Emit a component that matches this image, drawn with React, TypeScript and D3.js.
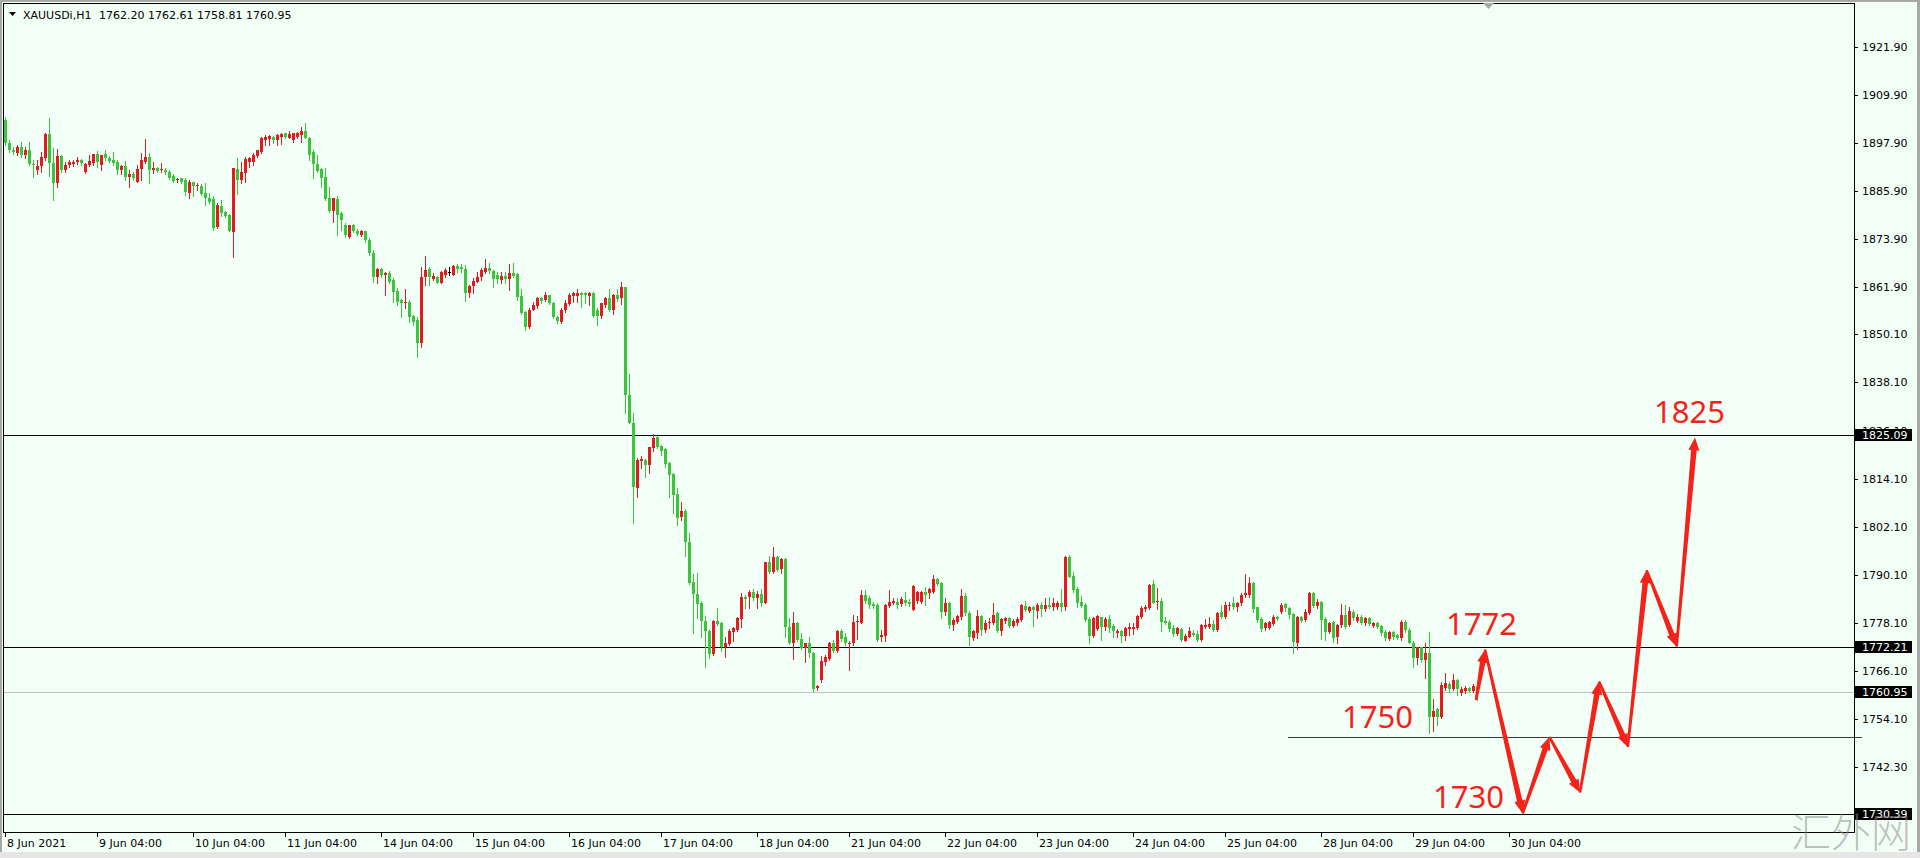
import React from "react";
import * as d3 from "d3";

// ---------- DATA: XAUUSDi H1 candles [open, high, low, close] ----------
const d0608 = [
  [1903.6,1904.2,1897.4,1897.8],[1897.8,1898.6,1895.5,1896.1],[1896.1,1896.9,1895.2,1895.6],[1895.3,1897.3,1894.8,1896.9],
  [1896.9,1898.2,1894.4,1894.8],[1894.8,1896.9,1894.2,1896.1],[1896.1,1898.2,1892.3,1892.6],[1892.6,1893.5,1889.4,1892.4],
  [1891.1,1893.6,1890.1,1892.0],[1892.1,1895.6,1890.7,1894.3],[1894.0,1900.3,1893.6,1900.0],[1900.0,1904.0,1889.6,1892.8],
  [1892.8,1896.5,1883.5,1887.8],[1887.8,1896.3,1886.8,1894.6],[1894.6,1894.9,1890.7,1891.0],[1891.0,1893.1,1890.7,1892.3],
  [1892.3,1893.6,1891.8,1893.0],[1892.6,1893.6,1892.2,1893.2],[1893.0,1894.3,1892.5,1893.6],[1893.6,1893.8,1892.4,1892.8],
  [1890.6,1892.8,1890.4,1892.6],[1892.4,1894.8,1892.0,1893.4],[1892.8,1895.2,1892.3,1895.0],
];
const d0609 = [
  [1895.2,1895.9,1891.9,1893.0],[1892.4,1894.8,1891.1,1894.8],[1895.0,1896.1,1893.6,1894.0],[1894.2,1894.6,1893.2,1893.4],
  [1893.6,1895.7,1892.4,1892.8],[1893.0,1893.6,1890.1,1891.1],[1891.0,1892.4,1890.1,1892.1],[1892.1,1893.4,1888.6,1889.3],
  [1889.3,1891.1,1886.9,1890.2],[1890.2,1890.7,1888.6,1889.0],[1888.2,1892.3,1888.2,1891.3],[1891.3,1895.4,1888.6,1893.6],
  [1893.2,1898.8,1892.8,1894.4],[1894.4,1895.4,1887.8,1891.1],[1891.0,1893.2,1890.3,1891.5],[1891.5,1891.8,1890.5,1890.8],
  [1891.1,1892.8,1890.6,1891.3],[1891.2,1891.6,1890.0,1890.5],[1890.6,1891.0,1888.8,1889.2],[1889.6,1890.0,1888.0,1888.3],
  [1888.5,1889.2,1888.2,1888.9],[1889.0,1889.2,1887.9,1888.2],[1888.5,1889.0,1884.9,1885.7],[1885.4,1888.6,1884.0,1888.0],
];
const d0610 = [
  [1888.0,1888.2,1884.5,1887.0],[1887.0,1887.8,1886.1,1887.3],[1887.2,1887.5,1884.8,1885.2],[1885.3,1887.8,1882.4,1884.0],
  [1884.0,1885.3,1882.8,1883.2],[1883.8,1884.5,1876.1,1876.6],[1877.0,1882.8,1876.6,1882.4],[1882.2,1883.6,1879.5,1880.3],
  [1880.6,1880.8,1879.3,1879.5],[1879.8,1880.0,1875.8,1876.0],[1875.7,1891.5,1869.5,1891.5],[1891.3,1894.0,1885.0,1888.6],
  [1888.6,1893.2,1887.8,1890.5],[1890.3,1894.4,1888.2,1893.8],[1893.0,1894.4,1891.9,1894.2],[1893.2,1895.3,1892.3,1894.8],
  [1894.6,1896.2,1894.3,1896.0],[1895.7,1899.4,1895.3,1899.0],[1898.6,1899.8,1897.3,1899.4],[1898.9,1899.8,1897.3,1899.5],
  [1899.4,1899.6,1897.9,1898.5],[1898.5,1900.0,1897.3,1899.8],[1899.3,1900.2,1897.6,1900.0],
];
const d0611 = [
  [1900.2,1900.4,1899.1,1899.3],[1899.2,1900.7,1899.0,1900.0],[1898.6,1900.3,1898.2,1900.2],[1899.4,1900.6,1899.2,1900.4],
  [1899.8,1901.9,1898.2,1900.9],[1900.9,1902.9,1899.0,1899.2],[1899.2,1899.4,1893.6,1894.8],[1895.6,1896.1,1889.0,1892.7],
  [1892.7,1894.8,1890.7,1890.9],[1891.3,1891.5,1886.9,1889.0],[1889.3,1891.5,1883.6,1883.8],[1884.0,1886.8,1880.7,1880.9],
  [1880.9,1884.2,1878.2,1884.0],[1883.8,1884.5,1875.0,1879.9],[1880.3,1880.7,1876.2,1878.5],[1877.3,1877.8,1874.5,1874.9],
  [1874.5,1877.5,1874.2,1877.3],[1877.3,1877.6,1875.6,1876.0],[1876.0,1876.4,1874.8,1875.2],[1875.0,1876.2,1874.6,1875.8],
  [1875.8,1876.0,1873.2,1873.6],[1873.6,1874.2,1870.0,1870.3],[1870.3,1871.1,1863.2,1864.5],[1864.5,1866.6,1862.8,1866.3],
];
const d0614 = [
  [1866.3,1866.6,1864.5,1864.9],[1865.0,1865.6,1859.9,1865.3],[1865.5,1865.8,1863.0,1863.2],[1863.6,1864.1,1858.2,1860.7],
  [1861.0,1861.6,1857.4,1858.2],[1858.6,1859.0,1854.5,1857.8],[1857.8,1861.3,1856.6,1858.2],[1858.2,1858.7,1853.3,1854.5],
  [1854.6,1854.9,1852.4,1853.3],[1853.7,1854.5,1844.5,1848.0],[1847.9,1867.0,1847.0,1864.5],[1864.5,1869.6,1862.4,1866.2],
  [1866.3,1867.0,1862.4,1864.3],[1864.0,1865.3,1863.6,1864.6],[1864.3,1864.6,1862.8,1863.0],[1863.0,1866.0,1862.8,1865.7],
  [1864.9,1866.6,1864.5,1866.1],[1865.7,1866.8,1864.8,1865.7],[1864.9,1867.4,1864.9,1867.1],[1867.1,1867.6,1865.7,1866.3],
  [1866.8,1867.6,1865.7,1866.3],[1866.3,1867.4,1858.5,1860.3],[1860.3,1862.4,1859.3,1862.2],
];
const d0615 = [
  [1862.1,1864.1,1860.3,1863.5],[1863.2,1865.7,1863.2,1864.5],[1864.3,1866.6,1863.6,1866.1],[1865.7,1869.0,1865.5,1866.6],
  [1866.6,1868.0,1865.3,1865.8],[1866.0,1866.2,1862.0,1863.8],[1864.9,1865.7,1862.8,1863.8],[1863.7,1865.7,1862.8,1864.6],
  [1864.6,1865.7,1862.8,1863.8],[1863.8,1867.6,1861.2,1865.3],[1865.3,1867.8,1864.5,1864.7],[1865.2,1865.5,1858.7,1859.5],
  [1859.7,1861.3,1855.3,1855.5],[1855.8,1856.0,1851.2,1852.0],[1852.0,1856.6,1851.8,1856.3],[1856.3,1858.2,1856.1,1857.4],
  [1857.2,1859.3,1856.6,1859.1],[1859.1,1859.3,1858.0,1858.3],[1858.7,1860.7,1858.3,1859.9],[1859.9,1860.0,1857.6,1857.8],
  [1857.8,1858.2,1854.1,1854.4],[1854.4,1854.7,1853.0,1853.5],[1853.3,1856.6,1853.0,1856.3],[1856.2,1858.6,1855.8,1858.0],
];
const d0616 = [
  [1857.7,1860.5,1857.4,1859.9],[1859.7,1860.7,1858.2,1860.3],[1859.7,1861.3,1858.2,1860.5],[1860.5,1860.7,1857.0,1859.9],
  [1860.3,1860.7,1857.8,1859.9],[1859.7,1860.7,1857.4,1860.5],[1860.5,1860.7,1854.5,1854.7],[1856.2,1856.6,1852.4,1854.7],
  [1854.7,1858.0,1854.1,1857.8],[1857.4,1859.5,1857.0,1859.1],[1859.1,1861.3,1856.0,1856.2],[1856.2,1860.2,1855.3,1859.9],
  [1859.9,1861.3,1858.5,1858.8],[1859.1,1863.2,1857.7,1862.0],[1861.8,1862.0,1830.4,1835.0],[1835.0,1840.2,1827.9,1828.1],
  [1828.1,1830.4,1803.1,1812.0],[1811.7,1819.2,1809.6,1818.8],[1818.6,1819.8,1816.7,1818.9],[1818.8,1819.0,1814.4,1817.5],
  [1817.5,1822.1,1815.6,1821.9],[1821.7,1825.2,1821.1,1824.2],[1824.4,1824.7,1821.7,1822.1],
];
const d0617 = [
  [1822.3,1822.5,1820.0,1821.1],[1821.4,1821.7,1817.1,1817.8],[1818.1,1818.3,1809.6,1815.0],[1815.3,1815.6,1805.5,1810.0],
  [1810.3,1811.7,1802.6,1804.2],[1804.5,1808.4,1803.9,1806.1],[1806.1,1806.5,1794.7,1798.4],[1798.4,1800.5,1787.9,1788.2],
  [1788.4,1790.3,1775.6,1785.4],[1785.4,1790.5,1779.3,1782.9],[1783.2,1783.7,1774.5,1778.5],[1778.7,1779.9,1767.1,1776.0],
  [1776.2,1776.4,1769.5,1770.4],[1770.4,1778.9,1770.1,1778.7],[1778.7,1781.8,1777.6,1777.9],[1778.2,1778.4,1771.2,1772.2],
  [1772.2,1774.6,1769.6,1773.0],[1772.9,1776.6,1772.6,1776.0],[1775.8,1777.1,1773.6,1776.8],[1776.4,1779.7,1776.2,1779.3],
  [1779.0,1785.7,1777.2,1784.7],[1784.7,1785.1,1781.8,1784.0],[1784.5,1786.3,1781.8,1785.9],[1785.9,1786.7,1783.9,1784.3],
];
const d0618 = [
  [1784.3,1786.0,1781.8,1785.4],[1785.4,1786.5,1782.4,1783.2],[1783.2,1793.4,1783.0,1793.2],[1793.2,1794.7,1790.5,1790.9],
  [1790.9,1797.1,1790.6,1794.5],[1794.5,1794.9,1791.1,1791.3],[1791.5,1794.3,1790.5,1794.0],[1794.0,1794.3,1774.7,1777.2],
  [1777.2,1779.3,1772.8,1773.1],[1773.1,1780.9,1769.1,1778.0],[1778.0,1778.4,1773.7,1773.9],[1774.0,1775.5,1771.6,1771.8],
  [1771.8,1773.2,1768.5,1773.0],[1773.0,1774.6,1769.6,1770.6],[1770.6,1770.8,1761.2,1761.6],[1761.8,1762.6,1761.4,1762.4],
  [1763.9,1769.9,1763.5,1768.7],[1768.5,1770.2,1767.7,1769.6],[1769.2,1773.3,1769.0,1773.1],[1773.1,1773.9,1770.8,1771.2],
  [1771.2,1776.3,1770.9,1776.0],[1776.0,1776.6,1773.5,1774.0],[1774.7,1775.5,1772.6,1773.0],
];
const d0621 = [
  [1773.0,1773.5,1766.4,1773.2],[1773.0,1780.1,1772.6,1778.4],[1778.4,1779.9,1774.0,1778.7],[1778.2,1786.3,1778.0,1785.1],
  [1785.1,1786.3,1783.2,1783.7],[1784.3,1784.8,1781.8,1782.6],[1782.8,1783.4,1781.8,1782.4],[1782.6,1783.0,1773.5,1773.9],
  [1774.7,1776.3,1773.5,1775.1],[1774.9,1782.8,1773.5,1782.6],[1782.4,1786.4,1782.0,1783.4],[1783.2,1784.3,1782.8,1783.7],
  [1783.4,1784.3,1781.8,1782.6],[1782.8,1784.6,1782.4,1784.0],[1783.8,1785.9,1782.6,1783.0],[1783.4,1784.0,1782.4,1782.8],
  [1781.3,1787.6,1781.3,1787.3],[1783.7,1786.1,1783.2,1785.9],[1783.4,1786.2,1783.0,1785.9],[1785.9,1787.2,1782.6,1785.1],
  [1785.7,1786.8,1784.3,1786.5],[1785.9,1790.0,1785.5,1789.0],[1789.0,1789.3,1787.5,1787.8],[1788.0,1788.4,1779.3,1780.9],
];
const d0622 = [
  [1780.9,1784.3,1780.1,1783.2],[1783.0,1783.4,1776.8,1777.6],[1777.6,1779.3,1776.4,1778.9],[1778.4,1780.1,1778.0,1779.9],
  [1779.5,1786.6,1779.2,1784.8],[1784.8,1785.7,1780.1,1780.5],[1780.5,1781.0,1772.6,1774.5],[1774.3,1776.4,1773.9,1776.0],
  [1775.7,1781.3,1774.3,1779.9],[1779.9,1780.1,1775.1,1776.4],[1776.4,1778.9,1775.9,1778.0],[1778.0,1779.3,1776.8,1778.4],
  [1778.2,1783.0,1777.8,1780.1],[1780.7,1780.9,1775.9,1776.2],[1776.2,1779.3,1775.1,1779.0],[1778.7,1779.6,1778.2,1779.3],
  [1779.3,1779.5,1777.2,1777.4],[1777.4,1779.0,1777.0,1778.7],[1778.0,1779.5,1777.6,1779.0],[1778.9,1782.8,1778.7,1782.6],
  [1782.4,1783.7,1781.0,1781.3],[1781.2,1782.4,1780.9,1782.0],[1782.0,1782.3,1777.4,1781.3],
];
const d0623 = [
  [1781.2,1783.0,1779.3,1782.6],[1782.6,1783.4,1779.9,1781.5],[1781.5,1784.3,1781.2,1782.6],[1782.6,1784.6,1781.8,1782.0],
  [1782.0,1784.3,1781.3,1783.0],[1782.0,1783.6,1781.6,1783.2],[1783.2,1786.5,1781.0,1782.2],[1782.2,1794.7,1781.3,1794.5],
  [1794.5,1795.0,1789.5,1789.7],[1789.8,1790.9,1785.9,1786.3],[1786.5,1787.0,1782.0,1783.2],[1783.4,1784.8,1782.0,1782.4],
  [1782.6,1783.0,1778.5,1778.9],[1779.0,1779.5,1773.0,1774.9],[1774.9,1779.6,1774.5,1779.3],[1776.5,1780.1,1776.4,1779.9],
  [1779.5,1779.6,1773.9,1777.2],[1777.0,1779.5,1776.4,1779.0],[1779.0,1780.1,1775.9,1776.8],[1777.4,1777.9,1774.7,1776.0],
  [1775.5,1776.5,1774.7,1776.2],[1776.0,1776.3,1773.4,1774.9],[1774.9,1777.2,1773.9,1776.8],[1776.5,1778.0,1775.1,1777.2],
];
const d0624 = [
  [1776.5,1778.0,1775.4,1777.2],[1776.8,1780.1,1776.5,1779.9],[1779.5,1782.4,1779.3,1781.8],[1781.5,1782.5,1781.2,1782.2],
  [1781.8,1787.8,1781.5,1787.6],[1787.8,1788.9,1783.0,1783.2],[1783.4,1786.8,1781.5,1783.7],[1783.7,1784.3,1776.0,1778.4],
  [1778.7,1779.5,1777.9,1778.2],[1778.4,1778.9,1776.2,1776.5],[1776.8,1777.6,1774.9,1775.4],[1775.4,1777.0,1775.2,1776.8],
  [1776.7,1776.8,1773.7,1773.9],[1773.7,1775.4,1773.5,1774.9],[1774.7,1777.2,1774.5,1776.0],[1775.7,1776.4,1774.9,1775.1],
  [1775.4,1776.0,1773.5,1773.9],[1773.9,1777.8,1773.7,1777.6],[1777.0,1779.0,1776.8,1777.6],[1777.0,1779.5,1776.8,1777.9],
  [1777.9,1778.9,1776.2,1776.4],[1776.4,1780.9,1776.0,1780.5],[1780.9,1782.6,1779.3,1779.7],
];
const d0625 = [
  [1779.7,1783.4,1779.3,1782.6],[1782.4,1783.4,1781.3,1782.6],[1783.0,1784.7,1781.7,1782.2],[1782.0,1783.4,1781.2,1783.0],
  [1783.0,1785.7,1782.6,1785.2],[1785.1,1790.3,1784.7,1785.5],[1785.1,1789.5,1784.7,1788.2],[1788.2,1788.4,1780.9,1781.5],
  [1782.0,1782.2,1778.4,1778.8],[1779.2,1779.7,1776.2,1776.5],[1776.8,1778.4,1776.4,1778.0],[1776.8,1778.7,1776.6,1778.4],
  [1777.8,1780.0,1777.6,1779.7],[1779.5,1779.8,1778.8,1779.0],[1780.9,1783.0,1780.5,1782.6],[1782.8,1783.0,1781.2,1781.8],
  [1781.8,1782.0,1779.3,1780.1],[1780.3,1780.5,1770.5,1773.4],[1773.2,1779.8,1771.5,1779.7],[1779.7,1779.8,1778.4,1778.7],
  [1778.8,1781.7,1778.7,1780.9],[1780.5,1785.9,1780.3,1785.7],[1785.7,1785.8,1782.0,1782.4],[1782.4,1784.2,1781.8,1783.4],
];
const d0628 = [
  [1783.4,1783.6,1774.0,1778.8],[1779.2,1779.6,1773.9,1775.9],[1775.9,1778.4,1775.5,1778.2],[1778.4,1778.7,1773.4,1774.3],
  [1774.5,1777.8,1773.2,1777.6],[1777.6,1782.8,1777.0,1780.1],[1780.1,1782.6,1776.8,1777.2],[1777.6,1782.2,1777.3,1781.1],
  [1780.9,1781.3,1778.8,1779.3],[1778.7,1780.3,1778.4,1779.7],[1779.7,1780.1,1777.8,1778.2],[1778.2,1779.6,1777.6,1779.3],
  [1779.3,1779.5,1777.5,1777.8],[1777.4,1778.4,1777.0,1778.2],[1778.2,1778.4,1776.8,1777.2],[1777.4,1777.6,1775.2,1775.5],
  [1775.9,1776.3,1773.9,1774.3],[1774.0,1776.1,1773.8,1775.9],[1775.9,1776.1,1774.2,1774.5],[1775.1,1775.3,1774.0,1774.3],
  [1774.3,1778.8,1773.9,1778.4],[1778.4,1778.8,1775.9,1776.3],[1776.3,1776.8,1773.0,1773.2],
];
const d0629 = [
  [1773.2,1773.7,1767.2,1769.3],[1769.3,1772.2,1768.0,1772.0],[1772.0,1772.2,1768.5,1768.9],[1768.9,1773.0,1764.3,1770.5],
  [1770.5,1775.9,1750.6,1754.7],[1754.7,1759.1,1751.2,1756.2],[1756.6,1756.8,1752.7,1754.7],[1754.7,1763.5,1754.5,1762.6],
  [1761.8,1765.7,1761.4,1763.2],[1763.0,1763.4,1761.0,1761.6],[1761.6,1765.5,1761.4,1763.9],[1763.9,1764.1,1760.1,1761.6],
  [1760.7,1762.2,1760.1,1761.6],[1761.2,1762.4,1760.7,1761.8],[1761.8,1762.2,1760.9,1761.2],[1761.2,1762.9,1761.0,1762.4],
  [1762.20,1762.61,1758.81,1760.95],
];

const candles: number[][] = [
  ...d0608, ...d0609, ...d0610, ...d0611, ...d0614, ...d0615, ...d0616, ...d0617,
  ...d0618, ...d0621, ...d0622, ...d0623, ...d0624, ...d0625, ...d0628, ...d0629,
];

// time axis (bar index of each label)
const timeTickIdx = [0, 23, 47, 70, 94, 117, 141, 164, 188, 211, 235, 258, 282, 305, 329, 352, 376];
const timeTickLabels = [
  "8 Jun 2021", "9 Jun 04:00", "10 Jun 04:00", "11 Jun 04:00", "14 Jun 04:00", "15 Jun 04:00",
  "16 Jun 04:00", "17 Jun 04:00", "18 Jun 04:00", "21 Jun 04:00", "22 Jun 04:00", "23 Jun 04:00",
  "24 Jun 04:00", "25 Jun 04:00", "28 Jun 04:00", "29 Jun 04:00", "30 Jun 04:00",
];

// price axis
const priceTicks = [1921.90, 1909.90, 1897.90, 1885.90, 1873.90, 1861.90, 1850.10, 1838.10, 1826.10,
  1814.10, 1802.10, 1790.10, 1778.10, 1766.10, 1754.10, 1742.30];
const levelLines = [1825.09, 1772.21, 1730.39];
const bidPrice = 1760.95;
const trendLevel = 1749.7;
const trendFromIdx = 320.75;
const trendToIdx = 464.25;

// forecast zig-zag (bar index / price)
const pathIdx = [367.75, 370, 379.4, 386.1, 393.75, 398.5, 405.7, 410.4, 417.9, 422.5];
const pathPrice = [1758.9, 1771.5, 1730.6, 1749.7, 1735.8, 1763.5, 1747.2, 1791.3, 1772.2, 1824.4];

const noteTexts = ["1825", "1772", "1750", "1730"];
const noteIdx = [412.25, 360.25, 334.25, 357];
const notePrice = [1828.0, 1775.1, 1751.9, 1732.0];

const headerSymbol = "XAUUSDi,H1";
const headerOHLC = "1762.20 1762.61 1758.81 1760.95";
const watermark = "汇外网";

// ---------- STYLE ----------
const BG = "#F2FFF6";
const UP = "#E31B1F";
const DOWN = "#3CC43C";
const ARROW = "#F3231C";
const AXIS_FONT = "Tahoma, 'DejaVu Sans', sans-serif";

function arrowPoly(ax: number, ay: number, bx: number, by: number): string {
  const dx = bx - ax, dy = by - ay;
  const len = Math.hypot(dx, dy);
  const ux = dx / len, uy = dy / len;
  const nx = -uy, ny = ux;
  const headLen = 13, headHalf = 5.5, w0 = 1.3, w1 = 2.8;
  const cx = bx - ux * headLen, cy = by - uy * headLen;
  const pts = [
    [ax + nx * w0, ay + ny * w0],
    [cx + nx * w1, cy + ny * w1],
    [cx + nx * headHalf, cy + ny * headHalf],
    [bx, by],
    [cx - nx * headHalf, cy - ny * headHalf],
    [cx - nx * w1, cy - ny * w1],
    [ax - nx * w0, ay - ny * w0],
  ];
  return pts.map((p) => p[0].toFixed(2) + "," + p[1].toFixed(2)).join(" ");
}

export default function App() {
  const W = 1920, H = 858;
  const left = 3, top = 3, right = 1854, bottom = 832;
  const x = d3.scaleLinear().domain([0, 368]).range([5, 1477]);
  const y = d3.scaleLinear().domain([1730.39, 1921.9]).range([814.3, 46.5]);
  const py = (v: number) => Math.round(y(v)) + 0.5;

  const boxLabels = [...levelLines, bidPrice];

  return (
    <svg
      width={W}
      height={H}
      viewBox={`0 0 ${W} ${H}`}
      style={{ position: "fixed", left: 0, top: 0, display: "block" }}
    >
      <rect x={0} y={0} width={W} height={H} fill={BG} />
      {/* window chrome */}
      <rect x={0} y={0} width={W} height={2} fill="#A8A8A8" />
      <rect x={0} y={0} width={2} height={H} fill="#A8A8A8" />
      <rect x={1917} y={0} width={3} height={H} fill="#A8A8A8" />
      <rect x={0} y={852} width={W} height={6} fill="#E6E6E6" />

      <defs>
        <clipPath id="plot">
          <rect x={left} y={top} width={right - left} height={bottom - top} />
        </clipPath>
      </defs>

      {/* horizontal level lines */}
      <line x1={left} x2={right} y1={py(bidPrice)} y2={py(bidPrice)} stroke="#C0C0C0" strokeWidth={1} />
      {levelLines.map((v) => (
        <line key={v} x1={left} x2={right} y1={py(v)} y2={py(v)} stroke="#000" strokeWidth={1} />
      ))}
      <line x1={x(trendFromIdx)} x2={x(trendToIdx)} y1={py(trendLevel)} y2={py(trendLevel)} stroke="#3A3A3A" strokeWidth={1} />

      {/* candles */}
      <g clipPath="url(#plot)">
        {candles.map((c, i) => {
          const [o, h, l, cl] = c;
          const cx = Math.round(x(i));
          const col = cl > o ? UP : cl < o ? DOWN : "#000";
          const yt = Math.round(y(Math.max(o, cl)));
          const yb = Math.round(y(Math.min(o, cl)));
          return (
            <g key={i}>
              <line x1={cx + 0.5} x2={cx + 0.5} y1={Math.round(y(h))} y2={Math.round(y(l)) + 1} stroke={col} strokeWidth={1} />
              {cl === o ? (
                <rect x={cx - 1} y={yt} width={3} height={1} fill={col} />
              ) : (
                <rect x={cx - 1} y={yt} width={3} height={Math.max(1, yb - yt)} fill={col} />
              )}
            </g>
          );
        })}
      </g>

      {/* plot frame */}
      <rect x={left + 0.5} y={top + 0.5} width={right - left} height={bottom - top} fill="none" stroke="#000" strokeWidth={1} />

      {/* chart-shift marker */}
      <polygon points={`${x(369.5)},3 ${x(372.25)},3 ${x(370.875)},9`} fill="#A9A9A9" />

      {/* price axis (1826.10 is covered by the 1825.09 marker, as in MT4) */}
      {priceTicks.map((v) => (
        <g key={v}>
          <line x1={right} x2={right + 4} y1={py(v)} y2={py(v)} stroke="#000" />
          <text x={right + 8} y={y(v) + 4} fontFamily={AXIS_FONT} fontSize={11} fill="#000">
            {v.toFixed(2)}
          </text>
        </g>
      ))}
      {boxLabels.map((v) => (
        <g key={"b" + v}>
          <rect x={right + 1} y={Math.round(y(v)) - 6} width={57} height={12} fill="#000" />
          <text x={right + 8} y={y(v) + 4} fontFamily={AXIS_FONT} fontSize={11} fill="#fff">
            {v.toFixed(2)}
          </text>
        </g>
      ))}

      {/* time axis */}
      {timeTickIdx.map((t, k) => {
        const tx = Math.round(x(t)) + 0.5;
        return (
          <g key={t}>
            <line x1={tx} x2={tx} y1={bottom} y2={bottom + 5} stroke="#000" />
            <text x={tx + 1.5} y={847} fontFamily={AXIS_FONT} fontSize={11} fill="#000">
              {timeTickLabels[k]}
            </text>
          </g>
        );
      })}

      {/* header */}
      <polygon points="9,12 16,12 12.5,16" fill="#000" />
      <text x={23} y={19} fontFamily={AXIS_FONT} fontSize={11} fill="#000">{headerSymbol}</text>
      <text x={99} y={19} fontFamily={AXIS_FONT} fontSize={11} fill="#000">{headerOHLC}</text>

      {/* forecast arrows */}
      {pathIdx.slice(1).map((_, k) => (
        <polygon
          key={"a" + k}
          points={arrowPoly(x(pathIdx[k]), y(pathPrice[k]), x(pathIdx[k + 1]), y(pathPrice[k + 1]))}
          fill={ARROW}
        />
      ))}

      {/* annotations */}
      {noteTexts.map((t, k) => (
        <text
          key={t}
          x={x(noteIdx[k])}
          y={y(notePrice[k])}
          fontFamily="'Noto Sans', 'Open Sans', sans-serif"
          fontSize={31}
          fill={ARROW}
        >
          {t}
        </text>
      ))}

      {/* watermark */}
      <text
        x={1791}
        y={847}
        fontFamily="'Noto Sans CJK SC', sans-serif"
        fontWeight={300}
        fontSize={40}
        fill="#8A8A8A"
        fillOpacity={0.55}
      >
        {watermark}
      </text>
    </svg>
  );
}
